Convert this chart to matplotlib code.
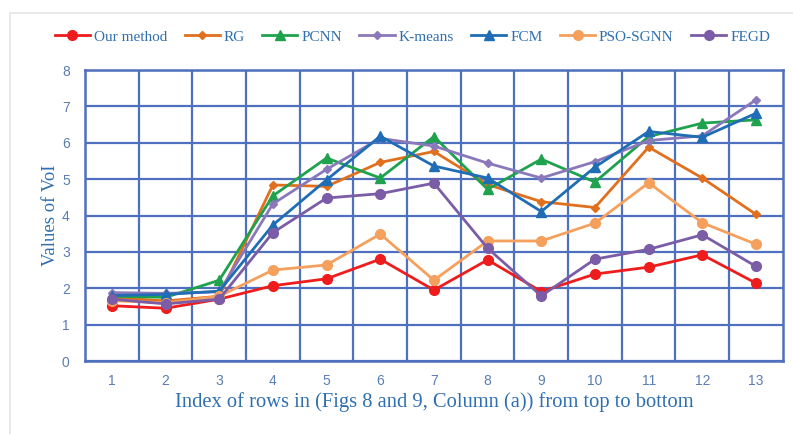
import matplotlib

matplotlib.use("Agg")
import matplotlib.pyplot as plt
from matplotlib.patches import Rectangle

# rows 1..13
ROWS = list(range(1, 14))

our_method = [1.52, 1.45, 1.70, 2.07, 2.26, 2.80, 1.95, 2.78, 1.91, 2.39, 2.58, 2.92, 2.14]
rg = [1.75, 1.65, 1.78, 4.84, 4.80, 5.46, 5.76, 4.85, 4.38, 4.22, 5.88, 5.03, 4.03]
pcnn = [1.78, 1.75, 2.22, 4.54, 5.58, 5.03, 6.17, 4.72, 5.55, 4.92, 6.17, 6.54, 6.63]
kmeans = [1.88, 1.86, 1.90, 4.32, 5.27, 6.12, 5.91, 5.44, 5.03, 5.48, 6.06, 6.19, 7.18]
fcm = [1.80, 1.83, 1.92, 3.74, 4.98, 6.18, 5.36, 5.03, 4.11, 5.33, 6.31, 6.15, 6.81]
pso_sgnn = [1.66, 1.60, 1.78, 2.50, 2.64, 3.49, 2.22, 3.30, 3.30, 3.79, 4.90, 3.80, 3.21]
fegd = [1.70, 1.57, 1.70, 3.53, 4.48, 4.60, 4.89, 3.10, 1.79, 2.80, 3.07, 3.47, 2.60]

SERIES = [
    ("Our method", our_method, "#ee1c1c", "o", 7),
    ("RG", rg, "#e0701e", "D", 4.5),
    ("PCNN", pcnn, "#1fa24e", "^", 7),
    ("K-means", kmeans, "#8b78bb", "D", 4.5),
    ("FCM", fcm, "#1f6db5", "^", 7),
    ("PSO-SGNN", pso_sgnn, "#f5a05c", "o", 7),
    ("FEGD", fegd, "#7b5ca6", "o", 7),
]

BLUE_TXT = "#2e6fb0"
TICK_TXT = "#5a7db3"
GRID = "#4f6fbf"


def main() -> None:
    fig = plt.figure(figsize=(7.93, 4.34), dpi=100)
    # faint outer frame of the original chart area
    fig.patches.append(Rectangle((0.012, -0.05), 1.2, 1.02, transform=fig.transFigure,
                                 fill=False, ec="#e4e4e4", lw=1.2))
    ax = fig.add_axes([0.1072, 0.1682, 0.880, 0.6705])

    for label, vals, color, marker, ms in SERIES:
        ax.plot(ROWS, vals, color=color, marker=marker, ms=ms, lw=2,
                label=label, zorder=3)

    ax.set_xlim(0.5, 13.5)
    ax.set_ylim(0, 8)
    ax.set_xticks(ROWS)
    ax.set_yticks(range(0, 9))
    ax.set_xticks([r + 0.5 for r in ROWS[:-1]], minor=True)
    ax.grid(True, which="minor", axis="x", color=GRID, lw=1.6)
    ax.grid(True, which="major", axis="y", color=GRID, lw=1.6)
    ax.tick_params(which="both", length=0)
    ax.tick_params(axis="x", pad=9)
    ax.tick_params(axis="y", pad=11)
    for lab in ax.get_xticklabels() + ax.get_yticklabels():
        lab.set_fontfamily("Liberation Sans")
        lab.set_fontsize(10)
        lab.set_color(TICK_TXT)
    for sp in ax.spines.values():
        sp.set_color(GRID)
        sp.set_linewidth(1.8)

    ax.set_ylabel("Values of VoI", family="Liberation Serif", fontsize=13.5,
                  color=BLUE_TXT, labelpad=2)
    ax.set_xlabel("Index of rows in (Figs 8 and 9, Column (a)) from top to bottom",
                  family="Liberation Serif", fontsize=14.8, color=BLUE_TXT, labelpad=3)

    fig.legend(loc="center", bbox_to_anchor=(0.52, 0.915), ncol=7, frameon=False,
               prop={"family": "Liberation Serif", "size": 11}, handlelength=2.3,
               handletextpad=0.25, columnspacing=1.15, labelcolor=BLUE_TXT)

    fig.savefig("out.png", dpi=100)


if __name__ == "__main__":
    main()
